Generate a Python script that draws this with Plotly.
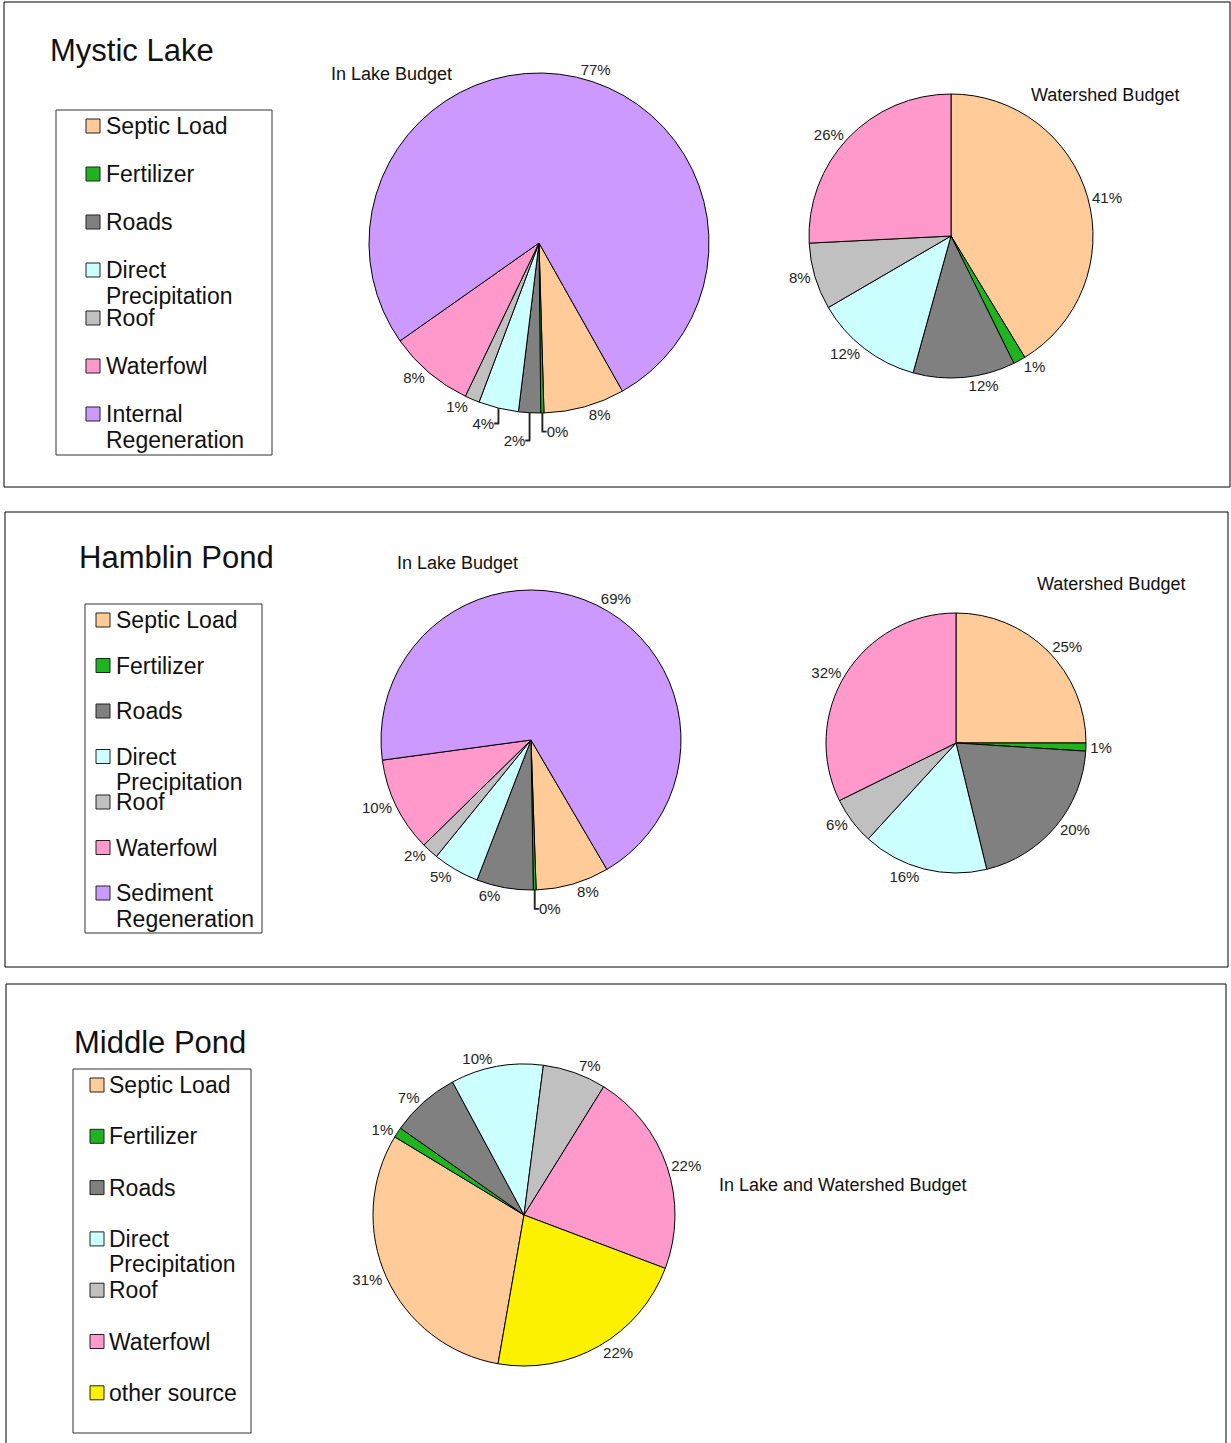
import plotly.graph_objects as go

W, H = 1231, 1443

# ---------------- data ----------------
panel_titles = ["Mystic Lake", "Hamblin Pond", "Middle Pond"]

mystic_labels = ["Septic Load", "Fertilizer", "Roads", "Direct Precipitation", "Roof", "Waterfowl", "Internal Regeneration"]
mystic_inlake = [7.7, 0.3, 2.1, 3.8, 1.4, 8.1, 76.6]
mystic_ws_labels = ["Septic Load", "Fertilizer", "Roads", "Direct Precipitation", "Roof", "Waterfowl"]
mystic_watershed = [41.3, 1.4, 11.6, 12.3, 7.6, 25.8]

hamblin_labels = ["Septic Load", "Fertilizer", "Roads", "Direct Precipitation", "Roof", "Waterfowl", "Sediment Regeneration"]
hamblin_inlake = [7.9, 0.3, 6.1, 5.0, 1.8, 10.2, 68.7]
hamblin_ws_labels = ["Septic Load", "Fertilizer", "Roads", "Direct Precipitation", "Roof", "Waterfowl"]
hamblin_watershed = [25.0, 1.0, 20.2, 15.6, 5.9, 32.3]

middle_labels = ["Septic Load", "Fertilizer", "Roads", "Direct Precipitation", "Roof", "Waterfowl", "other source"]
middle_combined = [30.9, 1.1, 7.4, 9.9, 6.8, 21.9, 22.0]

legend_mystic = ["Septic Load", "Fertilizer", "Roads", "Direct\nPrecipitation", "Roof", "Waterfowl", "Internal\nRegeneration"]
legend_hamblin = ["Septic Load", "Fertilizer", "Roads", "Direct\nPrecipitation", "Roof", "Waterfowl", "Sediment\nRegeneration"]
legend_middle = ["Septic Load", "Fertilizer", "Roads", "Direct\nPrecipitation", "Roof", "Waterfowl", "other source"]

# ---------------- styles ----------------
COLORS = {
    "Septic Load": "#FFCC99",
    "Fertilizer": "#1FB41F",
    "Roads": "#808080",
    "Direct Precipitation": "#CCFFFF",
    "Roof": "#C0C0C0",
    "Waterfowl": "#FF99CC",
    "Internal Regeneration": "#CC99FF",
    "Sediment Regeneration": "#CC99FF",
    "other source": "#FBF100",
}
FONT = "Arial, Liberation Sans, sans-serif"


def px(x):
    return x / W


def py(y):
    return 1 - y / H


fig = go.Figure()
shapes = []
annotations = []


def add_pie(labels, values, cx, cy, r, rotation, name):
    fig.add_trace(go.Pie(
        labels=labels, values=values, name=name,
        sort=False, direction="clockwise", rotation=rotation,
        marker=dict(colors=[COLORS[l] for l in labels], line=dict(color="black", width=1)),
        texttemplate="%{percent:.0%}", textposition="outside",
        textfont=dict(family=FONT, size=15, color="#222"),
        domain=dict(x=[px(cx - r), px(cx + r)], y=[py(cy + r), py(cy - r)]),
        showlegend=False, hoverinfo="label+percent",
    ))


def add_text(text, x, y, size, xanchor="left"):
    annotations.append(dict(text=text, x=px(x - 2), y=py(y), xref="paper", yref="paper",
                            xanchor=xanchor, yanchor="middle", align="left", showarrow=False,
                            font=dict(family=FONT, size=size, color="#111")))


def add_rect(x0, y0, x1, y1, fill=None, lw=1, lc="black"):
    shapes.append(dict(type="rect", xref="paper", yref="paper",
                       x0=px(x0), x1=px(x1), y0=py(y1), y1=py(y0),
                       line=dict(color=lc, width=lw),
                       fillcolor=fill if fill else "rgba(0,0,0,0)"))


def add_legend(items, color_keys, box, mx, tx, y0, step, fs, lh=25.5):
    add_rect(*box, lc="#333")
    for i, (it, ck) in enumerate(zip(items, color_keys)):
        yc = y0 + i * step
        add_rect(mx, yc - 7, mx + 14, yc + 7, fill=COLORS[ck], lc="#222")
        for j, line in enumerate(it.split("\n")):
            add_text(line, tx, yc + j * lh, fs)


# ---------------- panel 1: Mystic Lake ----------------
add_rect(4, 2, 1230, 487)
add_text(panel_titles[0], 50, 50, 31)
add_legend(legend_mystic, mystic_labels, (56, 110, 272, 455), 86, 106, 126, 48, 23)
add_pie(mystic_labels, mystic_inlake, 539, 243, 170, 150.6, "In Lake Budget")
add_pie(mystic_ws_labels, mystic_watershed, 951, 236, 142, 0, "Watershed Budget")
add_text("In Lake Budget", 331, 74, 18)
add_text("Watershed Budget", 1031, 95, 18)

# ---------------- panel 2: Hamblin Pond ----------------
add_rect(5, 512, 1228, 967)
add_text(panel_titles[1], 79, 557, 31)
add_legend(legend_hamblin, hamblin_labels, (85, 604, 262, 933), 96, 116, 620, 45.5, 23)
add_pie(hamblin_labels, hamblin_inlake, 531, 740, 150, 149.6, "In Lake Budget")
add_pie(hamblin_ws_labels, hamblin_watershed, 956, 743, 130, 0, "Watershed Budget")
add_text("In Lake Budget", 397, 563, 18)
add_text("Watershed Budget", 1037, 584, 18)

# ---------------- panel 3: Middle Pond ----------------
add_rect(6, 984, 1226, 1460)
add_text(panel_titles[2], 74, 1042, 31)
add_legend(legend_middle, middle_labels, (73, 1069, 251, 1433), 90, 109, 1085, 51.3, 23)
add_pie(middle_labels, middle_combined, 524, 1215, 151, 189.9, "In Lake and Watershed Budget")
add_text("In Lake and Watershed Budget", 719, 1185, 18)

fig.update_layout(
    width=W, height=H,
    margin=dict(l=0, r=0, t=0, b=0),
    paper_bgcolor="white", plot_bgcolor="white",
    shapes=shapes, annotations=annotations,
    showlegend=False,
    font=dict(family=FONT),
)

fig.write_html("out.html", config={"displayModeBar": False},
               post_script="document.body.style.margin='0';document.body.style.overflow='hidden';")
